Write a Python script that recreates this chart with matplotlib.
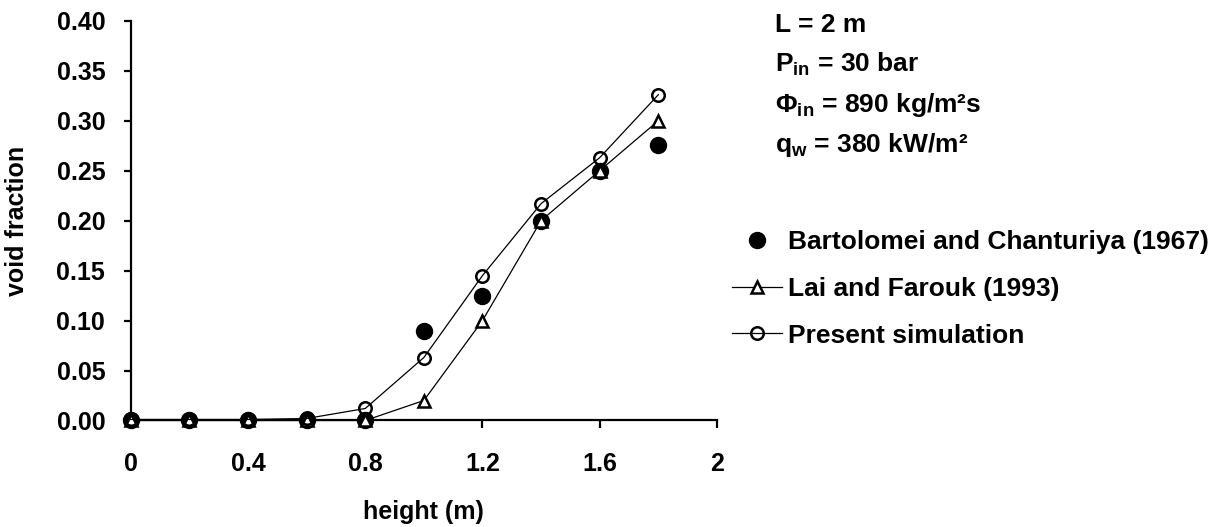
import matplotlib
matplotlib.use('Agg')
import matplotlib.pyplot as plt
import numpy as np

# data
height = [0, 0.2, 0.4, 0.6, 0.8, 1.0, 1.2, 1.4, 1.6, 1.8]
bartolomei = [0, 0, 0, 0, 0, 0.09, 0.125, 0.20, 0.25, 0.276]
lai_farouk = [0, 0, 0, 0, 0, 0.02, 0.10, 0.20, 0.25, 0.30]
present = [0.001, 0.001, 0.001, 0.002, 0.012, 0.063, 0.145, 0.217, 0.263, 0.326]

xticks = [0, 0.4, 0.8, 1.2, 1.6, 2]
xticklabels = ['0', '0.4', '0.8', '1.2', '1.6', '2']
yticks = [0, 0.05, 0.10, 0.15, 0.20, 0.25, 0.30, 0.35, 0.40]

conditions = ['L = 2 m',
              r'P$_{in}$ = 30 bar',
              r'Φ$_{in}$ = 890 kg/m²s',
              r'q$_{w}$ = 380 kW/m²']

plt.rcParams['font.family'] = ['Liberation Sans', 'DejaVu Sans']
plt.rcParams['font.weight'] = 'bold'
plt.rcParams['mathtext.fontset'] = 'custom'
plt.rcParams['mathtext.rm'] = 'Liberation Sans:bold'
plt.rcParams['mathtext.it'] = 'Liberation Sans:bold'
plt.rcParams['mathtext.bf'] = 'Liberation Sans:bold'
plt.rcParams['mathtext.default'] = 'regular'

fs = 18      # axis text
fs2 = 19     # legend and conditions

fig = plt.figure(figsize=(12.25, 5.27), dpi=100)
ax = fig.add_axes([0.1067, 0.2021, 0.4786, 0.7586])

ax.plot(height, bartolomei, linestyle='none', marker='o', color='black',
        markersize=11.5, clip_on=False, zorder=3,
        label='Bartolomei and Chanturiya (1967)')
ax.plot(height, lai_farouk, color='black', lw=0.9, marker='^',
        markersize=8.5, markerfacecolor='white', markeredgewidth=1.8,
        clip_on=False, zorder=4, label='Lai and Farouk (1993)')
ax.plot(height, present, color='black', lw=0.9, marker='o',
        markersize=9, markerfacecolor='none', markeredgewidth=1.8,
        clip_on=False, zorder=5, label='Present simulation')

ax.set_xlim(0, 2)
ax.set_ylim(0, 0.4)
ax.set_xticks(xticks)
ax.set_xticklabels(xticklabels)
ax.set_yticks(yticks)
ax.set_yticklabels(['%.2f' % v for v in yticks])

ax.spines['top'].set_visible(False)
ax.spines['right'].set_visible(False)
ax.spines['left'].set_linewidth(1.6)
ax.spines['bottom'].set_linewidth(1.6)
ax.tick_params(axis='x', direction='out', length=6, width=1.6, pad=17, labelsize=fs)
ax.tick_params(axis='y', direction='out', length=5.4, width=1.6, pad=13, labelsize=fs)

ax.set_xlabel('height (m)', fontsize=fs, fontweight='bold')
ax.set_ylabel('void fraction', fontsize=fs, fontweight='bold')
ax.xaxis.set_label_coords(0.5, -0.198)
ax.yaxis.set_label_coords(-0.174, 0.5)

# operating conditions
for i, s in enumerate(conditions):
    fig.text(0.6327, 1 - (31.7 + 40 * i) / 527, s, fontsize=fs2,
             fontweight='bold', va='baseline', ha='left')

fig.legend(loc='upper left', bbox_to_anchor=(0.5973, 0.563), frameon=False,
           handlelength=1.9, handletextpad=0.25,
           labelspacing=0.86, borderpad=0, borderaxespad=0, numpoints=1,
           prop={'weight': 'bold', 'size': fs2})

fig.savefig('out.png', dpi=100)
